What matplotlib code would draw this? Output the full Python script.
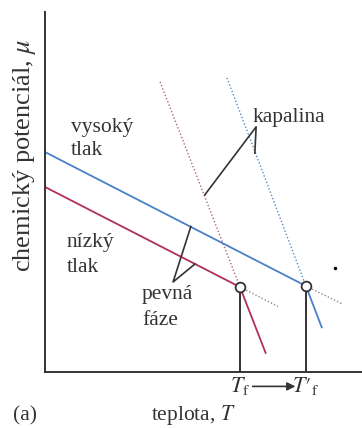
import matplotlib
matplotlib.use("Agg")
import matplotlib.pyplot as plt

plt.rcParams['font.family'] = ['Liberation Serif', 'DejaVu Serif']
plt.rcParams['mathtext.fontset'] = 'stix'

# values (arbitrary units, axes 0..10)
Tf = 6.15          # melting point, low pressure
Tf2 = 8.23         # melting point, high pressure

# solid phase, high pressure (blue): solid part and dotted continuation
sol_hi_T = [0.0, Tf2]
sol_hi_mu = [6.11, 2.39]
sol_hi_ext_T = [Tf2, 9.40]
sol_hi_ext_mu = [2.39, 1.88]
# liquid phase, high pressure (blue): dotted part and solid continuation
liq_hi_T = [5.74, Tf2]
liq_hi_mu = [8.17, 2.39]
liq_hi_ext_T = [Tf2, 8.73]
liq_hi_ext_mu = [2.39, 1.24]

# solid phase, low pressure (red)
sol_lo_T = [0.0, Tf]
sol_lo_mu = [5.14, 2.36]
sol_lo_ext_T = [Tf, 7.35]
sol_lo_ext_mu = [2.36, 1.82]
# liquid phase, low pressure (red)
liq_lo_T = [3.63, Tf]
liq_lo_mu = [8.06, 2.36]
liq_lo_ext_T = [Tf, 6.96]
liq_lo_ext_mu = [2.36, 0.53]

# callout lines
kap_T = [5.04, 6.66, 6.62]
kap_mu = [4.92, 6.81, 6.08]
pev_T = [4.60, 4.04, 4.73]
pev_mu = [4.04, 2.50, 3.00]

blue = '#4a80c8'
red = '#b03058'
blue_dot = '#5a8cc0'
red_dot = '#a86878'
grey_dot = '#8a8a8a'
ink = '#333333'

fig = plt.figure(figsize=(3.62, 4.28), dpi=100)
ax = fig.add_axes([45/362, 56/428, 317/362, 360/428])
ax.set_xlim(0, 10)
ax.set_ylim(0, 10)

ax.plot(sol_hi_T, sol_hi_mu, color=blue, lw=1.3)
ax.plot(sol_hi_ext_T, sol_hi_ext_mu, color=grey_dot, lw=1.0, ls=(0, (1, 1.5)))
ax.plot(liq_hi_T, liq_hi_mu, color=blue_dot, lw=1.0, ls=(0, (1, 1.5)))
ax.plot(liq_hi_ext_T, liq_hi_ext_mu, color=blue, lw=1.3)

ax.plot(sol_lo_T, sol_lo_mu, color=red, lw=1.3)
ax.plot(sol_lo_ext_T, sol_lo_ext_mu, color=grey_dot, lw=1.0, ls=(0, (1, 1.5)))
ax.plot(liq_lo_T, liq_lo_mu, color=red_dot, lw=1.0, ls=(0, (1, 1.5)))
ax.plot(liq_lo_ext_T, liq_lo_ext_mu, color=red, lw=1.3)

# verticals down to the melting temperatures
ax.plot([Tf, Tf], [0, sol_lo_mu[1]], color=ink, lw=1.4)
ax.plot([Tf2, Tf2], [0, sol_hi_mu[1]], color=ink, lw=1.4)
ax.plot([Tf, Tf2], [sol_lo_mu[1], sol_hi_mu[1]], ls='none', marker='o', ms=7,
        mfc='white', mec=ink, mew=1.3, zorder=5)

ax.plot(kap_T, kap_mu, color=ink, lw=1.2)
ax.plot(pev_T, pev_mu, color=ink, lw=1.2)
ax.plot([9.15], [2.90], marker='o', ms=1.5, color='black')

fs = 15.5
ax.text(6.56, 6.94, 'kapalina', fontsize=fs, color=ink)
ax.text(0.82, 6.67, 'vysoký', fontsize=fs, color=ink)
ax.text(0.82, 6.03, 'tlak', fontsize=fs, color=ink)
ax.text(0.69, 3.47, 'nízký', fontsize=fs, color=ink)
ax.text(0.69, 2.78, 'tlak', fontsize=fs, color=ink)
ax.text(3.06, 2.03, 'pevná', fontsize=fs, color=ink)
ax.text(3.06, 1.31, 'fáze', fontsize=fs, color=ink)

ax.set_xticks([Tf, Tf2])
ax.set_xticklabels([r'$T_\mathrm{f}$', r"$T\prime_{\mathrm{f}}$"], fontsize=16, color=ink)
ax.set_yticks([])
ax.tick_params(axis='x', length=0, pad=2)
ax.annotate('', xy=(7.90, -0.40), xytext=(6.55, -0.40),
            xycoords='data', textcoords='data', annotation_clip=False,
            arrowprops=dict(arrowstyle='-|>', color=ink, lw=1.2,
                            mutation_scale=12, shrinkA=0, shrinkB=0))

for side in ['top', 'right']:
    ax.spines[side].set_visible(False)
for side in ['left', 'bottom']:
    ax.spines[side].set_color(ink)
    ax.spines[side].set_linewidth(1.4)

fig.text(193/362, 8/428, 'teplota, $T$', fontsize=fs, color=ink, ha='center', va='baseline')
fig.text(13/362, 8/428, '(a)', fontsize=fs, color=ink, ha='left', va='baseline')
fig.text(25/362, (428-155)/428, 'chemický potenciál, $\\mu$', fontsize=19, color=ink,
         rotation=90, ha='center', va='center')

fig.savefig('out.png', dpi=100)
